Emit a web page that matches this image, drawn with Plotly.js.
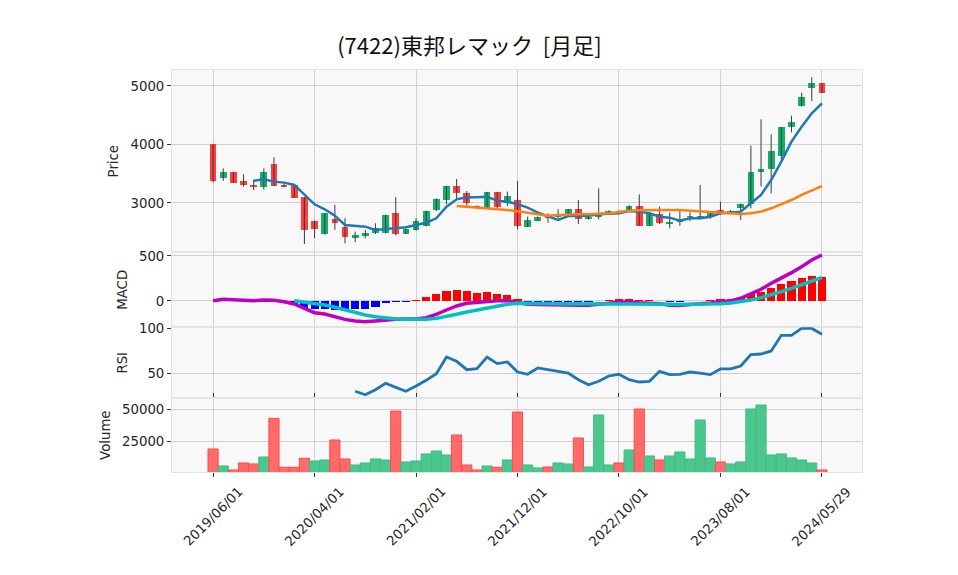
<!DOCTYPE html>
<html>
<head>
<meta charset="utf-8">
<script src="https://cdn.plot.ly/plotly-3.0.1.min.js"></script>
<style>
  body { margin: 0; background: #fff; }
  #chart { width: 958px; height: 575px; }
</style>
</head>
<body>
<div id="chart"></div>
<script>
// monthly bars, 2019/06 .. 2024/05/29 (x = bar index)
const tickIdx = [0, 10, 20, 30, 40, 50, 60];
const tickText = ['2019/06/01', '2020/04/01', '2021/02/01', '2021/12/01', '2022/10/01', '2023/08/01', '2024/05/29'];

const opens = [4000, 3432, 3530, 3376, 3310, 3280, 3667, 3310, 3300, 3100,
  2690, 2465, 2725, 2595, 2396, 2441, 2482, 2482, 2824, 2476,
  2540, 2612, 2880, 3051, 3290, 3165, 2950, 2920, 3188, 2995,
  3050, 2595, 2697, 2783, 2766, 2795, 2892, 2721, 2755, 2812,
  2868, 2868, 2950, 2612, 2812, 2647, 2675, 2755, 2766, 2755,
  2880, 2835, 2909, 2983, 3524, 3576, 3803, 4294, 4653, 4961, 5046];
const highs = [4000, 3590, 3535, 3490, 3390, 3590, 3780, 3330, 3330, 3100,
  2700, 2830, 2966, 2740, 2510, 2540, 2653, 2800, 3100, 2560,
  2740, 2870, 3080, 3295, 3410, 3205, 2960, 3190, 3190, 3195,
  3376, 2766, 2770, 2823, 2892, 2895, 3051, 2770, 3250, 2875,
  2875, 2960, 3148, 2830, 2940, 2835, 2892, 2840, 3308, 2840,
  3022, 2880, 2990, 3980, 4430, 4174, 4300, 4492, 4885, 5148, 5050];
const lows = [3350, 3380, 3345, 3280, 3220, 3230, 3290, 3270, 3090, 2300,
  2400, 2460, 2540, 2310, 2330, 2396, 2470, 2480, 2447, 2470,
  2530, 2600, 2860, 2980, 3050, 2950, 2910, 2915, 2897, 2950,
  2550, 2590, 2690, 2663, 2738, 2790, 2641, 2715, 2720, 2800,
  2830, 2860, 2610, 2605, 2640, 2567, 2610, 2690, 2720, 2730,
  2800, 2812, 2709, 2910, 3280, 3165, 3706, 4208, 4650, 4744, 4880];
const closes = [3380, 3530, 3350, 3300, 3280, 3530, 3296, 3280, 3090, 2530,
  2560, 2825, 2663, 2425, 2453, 2493, 2567, 2795, 2476, 2556,
  2692, 2863, 3074, 3290, 3165, 2995, 2915, 3188, 2937, 3120,
  2607, 2709, 2766, 2738, 2806, 2892, 2721, 2766, 2795, 2868,
  2835, 2950, 2612, 2824, 2653, 2675, 2721, 2783, 2785, 2835,
  2812, 2863, 2983, 3530, 3581, 3889, 4294, 4380, 4807, 5046, 4885];
const volumes = [19010, 5730, 2600, 8070, 7290, 12760, 42970, 4690, 4690, 11720,
  9630, 10420, 26040, 11200, 6510, 8070, 11200, 10420, 48700, 8850,
  9630, 15100, 17450, 14320, 29950, 6510, 2600, 5730, 4690, 10420,
  47900, 6510, 4170, 4950, 8070, 7290, 27600, 4950, 45570, 6510,
  8070, 18230, 50260, 13540, 10420, 13540, 16670, 11200, 41670, 11980,
  8850, 7290, 8850, 50260, 53380, 14320, 15100, 11980, 10420, 8070, 2600];

const ma5 = Array(4).fill(null).concat([3381, 3405, 3365, 3348, 3308, 3137,
  2977, 2892, 2783, 2624, 2607, 2595, 2538, 2550, 2561, 2584,
  2624, 2663, 2738, 2937, 3063, 3097, 3097, 3108, 3040, 3022,
  2980, 2920, 2835, 2766, 2709, 2778, 2783, 2783, 2806, 2812,
  2824, 2863, 2852, 2824, 2766, 2749, 2697, 2738, 2738, 2766,
  2824, 2835, 2852, 2995, 3137, 3393, 3706, 4048, 4304, 4533, 4704]);
const ma25 = Array(24).fill(null).concat([2949, 2937, 2920, 2903, 2892, 2880,
  2860, 2835, 2806, 2783, 2795, 2806, 2806, 2806, 2812, 2824,
  2846, 2869, 2874, 2880, 2880, 2880, 2880, 2869, 2846, 2835,
  2824, 2824, 2812, 2824, 2852, 2909, 2977, 3051, 3137, 3210, 3290]);

const macd = [3, 20, 15, 8, 3, 12, 8, -8, -33, -81,
  -130, -144, -174, -204, -222, -230, -222, -211, -204, -200,
  -200, -185, -148, -100, -55, -26, -15, -8, 3, 3,
  -18, -35, -40, -44, -46, -47, -47, -46, -40, -25,
  -12, -10, -20, -22, -31, -47, -49, -40, -35, -23,
  -8, 0, 30, 78, 130, 196, 252, 315, 381, 456, 511];
const signal = Array(8).fill(null).concat([3, -10,
  -26, -44, -70, -100, -130, -156, -174, -189, -200, -204,
  -207, -204, -193, -174, -148, -122, -100, -74, -55, -37,
  -26, -24, -26, -28, -30, -32, -34, -36, -37, -36,
  -34, -32, -31, -31, -33, -36, -38, -38, -37, -34,
  -30, -22, -7, 11, 37, 67, 104, 141, 185, 222, 259]);
const hist = Array(8).fill(null).concat([-30, -75,
  -93, -93, -100, -107, -93, -85, -63, -26, -15, -11,
  7, 44, 78, 107, 122, 111, 89, 96, 78, 67,
  22, -11, -11, -11, -11, -11, -11, -11, -3, 11,
  22, 22, 11, 11, 2, -11, -11, -2, 2, 11,
  22, 22, 33, 78, 104, 148, 189, 222, 255, 278, 263]);

const rsi = Array(14).fill(null).concat([30, 26.2, 31.8, 38.9, 34.4, 30,
  35.9, 42.2, 49.6, 68.1, 63.3, 54, 55.1, 68.1, 60.7, 62.6,
  51.4, 48.9, 55.9, 54, 52.2, 50.3, 42.9, 37.3, 41.1, 47,
  48.9, 42.9, 40.3, 41.1, 52.2, 48.5, 48.9, 51.4, 50.3, 48.5,
  54.8, 54.8, 58.1, 70.7, 71.4, 74.8, 92.2, 92.2, 99.8, 99.8, 93.3]);

const UP = '#13b06d', DOWN = '#ff3d3d';
const idx = closes.map((_, i) => i);

// wicks
let wx = [], wy = [];
idx.forEach(i => { wx.push(i, i, null); wy.push(lows[i], highs[i], null); });

const bodyBase = idx.map(i => Math.min(opens[i], closes[i]));
const bodyLen = idx.map(i => Math.max(Math.abs(closes[i] - opens[i]), 8));
const bodyCol = idx.map(i => closes[i] >= opens[i] ? UP : DOWN);

// volume colour follows close vs previous close
const volUp = idx.map(i => i === 0 ? closes[0] >= opens[0] : closes[i] >= closes[i - 1]);
const volCol = volUp.map(u => u ? '#4cc68f' : '#ff6b6b');
const volLine = volUp.map(u => u ? '#3dbd84' : '#ff4a4a');

const histCol = hist.map(v => v === null ? 'rgba(0,0,0,0)' : (v >= 0 ? '#ff0000' : '#0000ff'));

const data = [
  {x: wx, y: wy, type: 'scatter', mode: 'lines', line: {color: '#3a3a3a', width: 1}, hoverinfo: 'skip', yaxis: 'y'},
  {x: idx, y: bodyLen, base: bodyBase, type: 'bar', width: 0.66, marker: {color: bodyCol, line: {width: 0}}, yaxis: 'y'},
  {x: idx, y: ma5, type: 'scatter', mode: 'lines', line: {color: '#1f77b4', width: 2.5}, yaxis: 'y'},
  {x: idx, y: ma25, type: 'scatter', mode: 'lines', line: {color: '#ff7f0e', width: 2.5}, yaxis: 'y'},

  {x: idx, y: hist, type: 'bar', width: 0.8, marker: {color: histCol, line: {width: 0}}, yaxis: 'y2'},
  {x: idx, y: macd, type: 'scatter', mode: 'lines', line: {color: '#c000c0', width: 3.5}, yaxis: 'y2'},
  {x: idx, y: signal, type: 'scatter', mode: 'lines', line: {color: '#00c0c0', width: 3.5}, yaxis: 'y2'},

  {x: idx, y: rsi, type: 'scatter', mode: 'lines', line: {color: '#1f77b4', width: 2.8}, yaxis: 'y3'},

  {x: idx, y: volumes, type: 'bar', width: 1, marker: {color: volCol, line: {color: volLine, width: 1}}, yaxis: 'y4'}
];

const tickFont = {family: 'DejaVu Sans', size: 13.3, color: '#262626'};

function yax(domain, range, ticks, title) {
  return {
    domain: domain, range: range, tickvals: ticks, ticktext: ticks.map(String),
    ticks: 'outside', ticklen: 4, tickcolor: '#333', tickfont: tickFont,
    showgrid: true, gridcolor: '#d0d0d0', gridwidth: 1, zeroline: false,
    showline: true, linecolor: '#e4e4e4', mirror: true,
    title: {text: title, font: tickFont, standoff: 8},
    anchor: 'x', fixedrange: true
  };
}

const annotations = tickIdx.map((v, k) => ({
  x: v, y: -0.1107, xref: 'x', yref: 'paper',
  text: tickText[k], showarrow: false, textangle: -45,
  xanchor: 'center', yanchor: 'middle', font: tickFont
}));

const layout = {
  width: 958, height: 575,
  margin: {l: 172, r: 96, t: 70, b: 103},
  paper_bgcolor: '#ffffff', plot_bgcolor: '#f8f8f8',
  showlegend: false, bargap: 0,
  title: {
    text: '(7422)東邦レマック  [月足]', xref: 'container', yref: 'container',
    x: 0.49, y: 0.92, xanchor: 'center', yanchor: 'middle',
    font: {family: 'Noto Sans CJK JP', size: 22, color: '#111'}
  },
  xaxis: {
    domain: [0, 1], range: [-4.05, 63.95], tickvals: tickIdx, showticklabels: false,
    ticks: 'outside', ticklen: 4, tickcolor: '#333',
    showgrid: true, gridcolor: '#d0d0d0', gridwidth: 1, zeroline: false,
    showline: true, linecolor: '#e4e4e4', mirror: 'all', anchor: 'y4', fixedrange: true
  },
  yaxis: yax([0.5465, 1], [2157, 5273], [3000, 4000, 5000], 'Price'),
  yaxis2: yax([0.36, 0.5465], [-292, 541], [0, 500], 'MACD'),
  yaxis3: yax([0.1833, 0.36], [22.2, 101.1], [50, 100], 'RSI'),
  yaxis4: yax([0, 0.1833], [1000, 58600], [25000, 50000], 'Volume'),
  annotations: annotations
};

Plotly.newPlot('chart', data, layout, {displayModeBar: false, staticPlot: true});
</script>
</body>
</html>
